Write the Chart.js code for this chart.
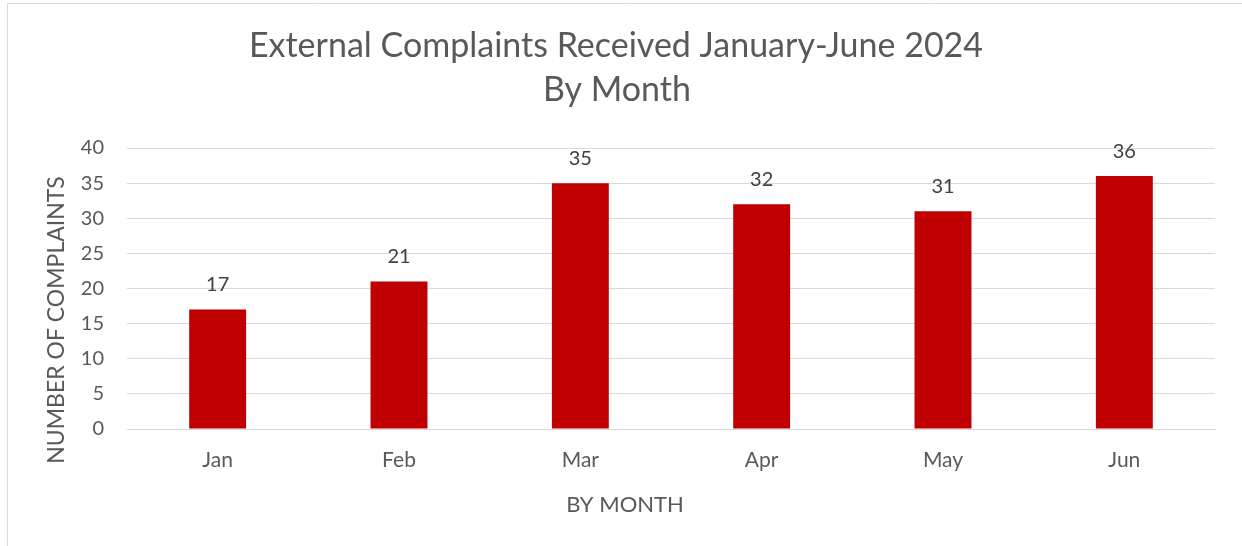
<!DOCTYPE html>
<html><head><meta charset="utf-8">
<script src="https://cdn.jsdelivr.net/npm/chart.js@4.4.1/dist/chart.umd.min.js"></script>
<style>html,body{margin:0;padding:0;background:#fff;}#wrap{width:1242px;height:546px;position:relative;}</style>
</head><body><div id="wrap"><canvas id="c" width="1242" height="546"></canvas></div>
<script>
const categories = ["Jan","Feb","Mar","Apr","May","Jun"];
const complaints = [17,21,35,32,31,36];
const yTicks = [0,5,10,15,20,25,30,35,40];
const titleLines = ["External Complaints Received January-June 2024","By Month"];
const xTitle = "BY MONTH";
const yTitle = "NUMBER OF COMPLAINTS";

const FONT = "Lato, 'Open Sans', sans-serif";
const textColor = "#595959";

const decor = {
  id: 'decor',
  beforeDraw(chart) {
    const ctx = chart.ctx;
    ctx.save();
    ctx.strokeStyle = '#d9d9d9';
    ctx.lineWidth = 1;
    ctx.beginPath();
    ctx.moveTo(7.5, 600); ctx.lineTo(7.5, 3.5); ctx.lineTo(1300, 3.5);
    ctx.stroke();
    ctx.restore();
  },
  afterDraw(chart) {
    const ctx = chart.ctx;
    ctx.save();
    ctx.fillStyle = textColor;
    ctx.textAlign = 'center';
    ctx.textBaseline = 'middle';
    ctx.font = "34px " + FONT;
    ctx.fillText(titleLines[0], 616, 46);
    ctx.fillText(titleLines[1], 617, 90);
    ctx.font = "22px " + FONT;
    ctx.fillText(xTitle, 625, 505);
    ctx.save();
    ctx.translate(57, 320);
    ctx.rotate(-Math.PI/2);
    ctx.font = "23px " + FONT;
    ctx.fillText(yTitle, 0, 0);
    ctx.restore();
    ctx.fillStyle = '#404040';
    ctx.font = "20px " + FONT;
    const meta = chart.getDatasetMeta(0);
    meta.data.forEach((bar, i) => {
      ctx.fillText(String(complaints[i]), bar.x, bar.y - 25);
    });
    ctx.restore();
  }
};

new Chart(document.getElementById('c'), {
  type: 'bar',
  data: {
    labels: categories,
    datasets: [{
      data: complaints,
      backgroundColor: '#C00000',
      borderWidth: 0,
      barPercentage: 0.314,
      categoryPercentage: 1.0
    }]
  },
  options: {
    responsive: false,
    animation: false,
    devicePixelRatio: 1,
    layout: { padding: { left: 7, right: 27, top: 148, bottom: 0 } },
    plugins: { legend: { display: false }, title: { display: false }, tooltip: { enabled: false } },
    scales: {
      x: {
        grid: { display: false, drawTicks: false },
        border: { display: true, color: '#d9d9d9', width: 1 },
        ticks: { color: textColor, font: { family: FONT, size: 21 }, padding: 19 },
        afterFit(s) { s.height = 117; }
      },
      y: {
        min: 0, max: 40,
        afterBuildTicks(s) { s.ticks = yTicks.map(v => ({ value: v })); },
        grid: { color: '#d9d9d9', drawTicks: false, lineWidth: 1 },
        border: { display: false },
        ticks: { color: textColor, font: { family: FONT, size: 20 }, padding: 23 },
        afterFit(s) { s.width = 120; }
      }
    }
  },
  plugins: [decor]
});
</script></body></html>
